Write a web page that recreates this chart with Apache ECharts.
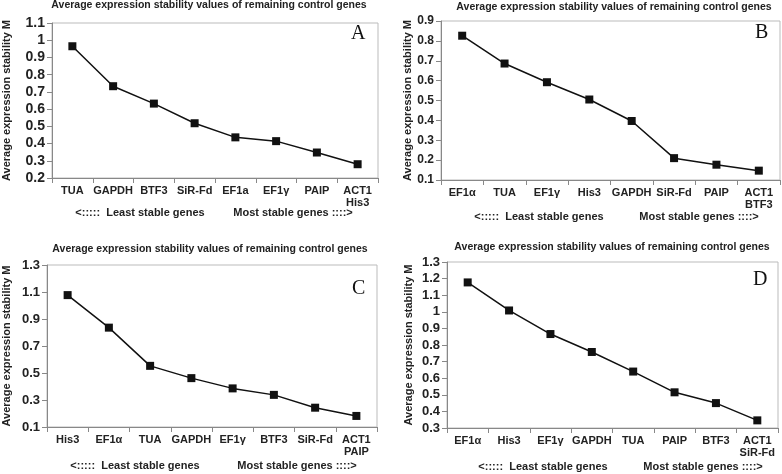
<!DOCTYPE html>
<html><head><meta charset="utf-8">
<script src="https://cdn.jsdelivr.net/npm/echarts@6/dist/echarts.min.js"></script>
<style>html,body{margin:0;padding:0;background:#fff}#c{width:782px;height:474px}</style>
</head><body><div id="c"></div>
<script>
const titleText = 'Average expression stability values of remaining control genes';
const yName = 'Average expression stability M';
const catsA = ['TUA','GAPDH','BTF3','SiR-Fd','EF1a','EF1\u03b3','PAIP','ACT1\nHis3'];
const valsA = [0.965,0.733,0.632,0.518,0.436,0.414,0.348,0.280];
const catsB = ['EF1\u03b1','TUA','EF1\u03b3','His3','GAPDH','SiR-Fd','PAIP','ACT1\nBTF3'];
const valsB = [0.826,0.686,0.592,0.505,0.397,0.210,0.177,0.147];
const catsC = ['His3','EF1\u03b1','TUA','GAPDH','EF1\u03b3','BTF3','SiR-Fd','ACT1\nPAIP'];
const valsC = [1.077,0.836,0.553,0.462,0.386,0.338,0.243,0.182];
const catsD = ['EF1\u03b1','His3','EF1\u03b3','GAPDH','TUA','PAIP','BTF3','ACT1\nSiR-Fd'];
const valsD = [1.177,1.008,0.866,0.758,0.640,0.515,0.450,0.346];
const yMin = [0.2,0.1,0.1,0.3];
const yMax = [1.1,0.9,1.3,1.3];
const yStep = [0.1,0.1,0.2,0.1];
const letters = ['A','B','C','D'];
const leastText = '<:::::  Least stable genes';
const mostText = 'Most stable genes ::::>';

const FF = '"Liberation Sans", Arial, sans-serif';
const cats = [catsA,catsB,catsC,catsD];
const vals = [valsA,valsB,valsC,valsD];
const grids = [
  {left:45, top:23, width:333, height:155},
  {left:441, top:21, width:339, height:159},
  {left:40, top:265, width:337, height:162},
  {left:447, top:262, width:331, height:166}
];
const yFont = [14,12,13,13];
const nameGaps = [40,27,35,33];
const titlePos = [{x:209,y:5},{x:614,y:7},{x:210,y:249},{x:612,y:247}];
const letterPos = [{x:357,y:35},{x:761,y:34},{x:358,y:290},{x:759,y:281}];
const bottomPos = [
  {l:140,m:293,y:213},{l:539,m:699,y:217},{l:135,m:297,y:466},{l:543,m:703,y:467}
];

const chart = echarts.init(document.getElementById('c'));
const option = {
  backgroundColor:'#fff',
  animation:false,
  grid: grids.map(g=>Object.assign({show:true,borderColor:'#bbb',borderWidth:1,backgroundColor:'#fff',containLabel:false},g)),
  xAxis: cats.map((c,i)=>({type:'category',gridIndex:i,data:c,boundaryGap:true,
    axisLine:{lineStyle:{color:'#888',width:1}},
    axisTick:{show:true,alignWithLabel:false,length:5,lineStyle:{color:'#888'}},
    axisLabel:{interval:0,fontFamily:FF,fontSize:11,fontWeight:'bold',color:'#222',margin:7,lineHeight:12}})),
  yAxis: vals.map((v,i)=>({type:'value',gridIndex:i,min:yMin[i],max:yMax[i],interval:yStep[i],
    name:yName,nameLocation:'middle',nameGap:nameGaps[i],
    nameTextStyle:{fontFamily:FF,fontSize:11,fontWeight:'bold',color:'#222'},
    splitLine:{show:false},
    axisLine:{show:true,lineStyle:{color:'#888',width:1}},
    axisTick:{show:true,length:5,lineStyle:{color:'#888'}},
    axisLabel:{fontFamily:FF,fontSize:yFont[i],fontWeight:'bold',color:'#222',margin:7,
      formatter:(x)=>String(Math.round(x*10)/10)}})),
  series: vals.map((v,i)=>({type:'line',xAxisIndex:i,yAxisIndex:i,data:v,
    symbol:'rect',symbolSize:8,lineStyle:{color:'#111',width:1.5},itemStyle:{color:'#111'}})),
  graphic: [].concat(
    titlePos.map(p=>({type:'text',x:p.x,y:p.y,style:{text:titleText,align:'center',verticalAlign:'middle',font:'bold 10.5px '+FF,fill:'#222'}})),
    letterPos.map((p,i)=>({type:'text',left:p.x-6,top:p.y-11,style:{text:letters[i],font:'20px "Liberation Serif", "Times New Roman", serif',fill:'#111'}})),
    bottomPos.map(p=>({type:'text',x:p.l,y:p.y,style:{text:leastText,align:'center',verticalAlign:'middle',font:'bold 11px '+FF,fill:'#222'}})),
    bottomPos.map(p=>({type:'text',x:p.m,y:p.y,style:{text:mostText,align:'center',verticalAlign:'middle',font:'bold 11px '+FF,fill:'#222'}}))
  )
};
chart.setOption(option);
</script></body></html>
